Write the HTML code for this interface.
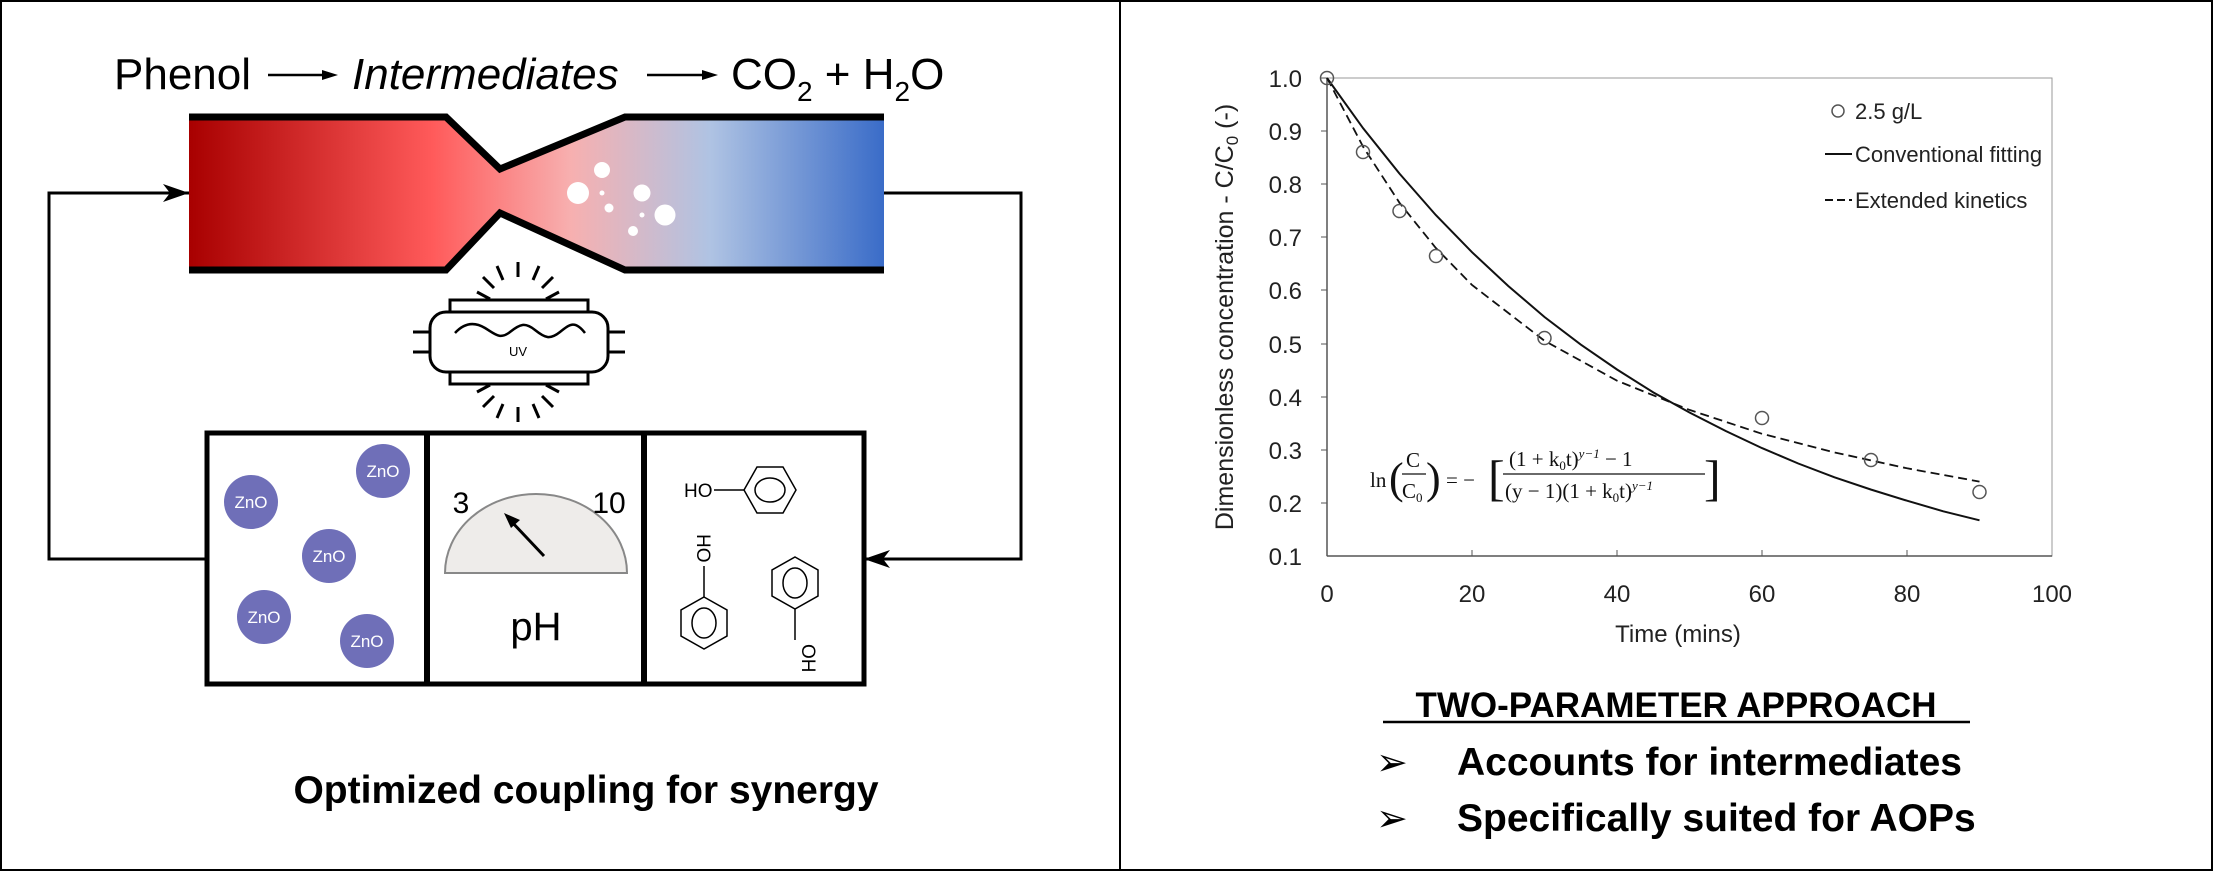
<!DOCTYPE html>
<html><head><meta charset="utf-8"><style>
html,body{margin:0;padding:0;background:#fff}
svg{display:block}
.s{font-family:"Liberation Sans",sans-serif}
.b{font-family:"Liberation Sans",sans-serif;font-weight:bold}
.r{font-family:"Liberation Serif",serif}
</style></head><body>
<svg width="2213" height="871" viewBox="0 0 2213 871" xmlns="http://www.w3.org/2000/svg">
<defs>
<linearGradient id="g" x1="189" y1="0" x2="884" y2="0" gradientUnits="userSpaceOnUse">
<stop offset="0" stop-color="#a80000"/>
<stop offset="0.35" stop-color="#ff5a5a"/>
<stop offset="0.55" stop-color="#f7b0b0"/>
<stop offset="0.75" stop-color="#afc3e3"/>
<stop offset="1" stop-color="#3a6cc8"/>
</linearGradient>
</defs>
<rect x="1" y="1" width="2211" height="869" fill="none" stroke="#000" stroke-width="2"/>
<line x1="1120" y1="0" x2="1120" y2="871" stroke="#000" stroke-width="2"/>

<!-- title -->
<text x="114" y="89" class="s" font-size="44">Phenol</text>
<line x1="268" y1="75" x2="330" y2="75" stroke="#000" stroke-width="2.5"/>
<polygon points="338,75 322,70 322,80" fill="#000"/>
<text x="352" y="89" class="s" font-size="44" font-style="italic">Intermediates</text>
<line x1="647" y1="75" x2="710" y2="75" stroke="#000" stroke-width="2.5"/>
<polygon points="718,75 702,70 702,80" fill="#000"/>
<text x="731" y="89" class="s" font-size="44">CO<tspan font-size="28" dy="12">2</tspan><tspan dy="-12"> + H</tspan><tspan font-size="28" dy="12">2</tspan><tspan dy="-12">O</tspan></text>

<!-- tube -->
<polygon points="189,117 446,117 500,169 625,117 884,117 884,270 625,270 500,213 446,270 189,270" fill="url(#g)"/>
<polyline points="189,117 446,117 500,169 625,117 884,117" fill="none" stroke="#000" stroke-width="7"/>
<polyline points="189,270 446,270 500,213 625,270 884,270" fill="none" stroke="#000" stroke-width="7"/>
<g fill="#fff">
<circle cx="578" cy="193" r="11"/><circle cx="602" cy="170" r="8"/><circle cx="602" cy="193" r="2.5"/>
<circle cx="609" cy="208" r="4.5"/><circle cx="642" cy="193" r="8.5"/><circle cx="642" cy="215" r="2.5"/>
<circle cx="665" cy="215" r="10.5"/><circle cx="633" cy="231" r="5"/>
</g>

<!-- loop -->
<polyline points="189,193 49,193 49,559 207,559" fill="none" stroke="#000" stroke-width="3"/>
<polygon points="189,193 163,184 170,193 163,202" fill="#000"/>
<polyline points="884,193 1021,193 1021,559 864,559" fill="none" stroke="#000" stroke-width="3"/>
<polygon points="864,559 890,550 883,559 890,568" fill="#000"/>

<!-- UV lamp -->
<g stroke="#000" stroke-width="3" fill="none">
<rect x="450" y="300" width="138" height="12" fill="#fff"/>
<rect x="450" y="372" width="138" height="12" fill="#fff"/>
<rect x="430" y="312" width="178" height="60" rx="16" fill="#fff"/>
<line x1="413" y1="332" x2="430" y2="332"/><line x1="413" y1="352" x2="430" y2="352"/>
<line x1="608" y1="332" x2="625" y2="332"/><line x1="608" y1="352" x2="625" y2="352"/>
<path d="M455,333 C465,322 475,322 485,328 S500,340 510,332 S525,322 535,330 S550,340 560,332 S575,320 585,333" stroke-width="2.5"/>
<line x1="518" y1="262" x2="518" y2="277"/><line x1="497" y1="266" x2="503" y2="280"/><line x1="539" y1="266" x2="533" y2="280"/>
<line x1="483" y1="277" x2="494" y2="288"/><line x1="553" y1="277" x2="542" y2="288"/>
<line x1="477" y1="292" x2="490" y2="299"/><line x1="559" y1="292" x2="546" y2="299"/>
<line x1="518" y1="407" x2="518" y2="422"/><line x1="497" y1="418" x2="503" y2="404"/><line x1="539" y1="418" x2="533" y2="404"/>
<line x1="483" y1="407" x2="494" y2="396"/><line x1="553" y1="407" x2="542" y2="396"/>
<line x1="477" y1="392" x2="490" y2="385"/><line x1="559" y1="392" x2="546" y2="385"/>
</g>
<text x="518" y="356" class="s" font-size="13" text-anchor="middle">UV</text>

<!-- boxes -->
<rect x="207" y="433" width="657" height="251" fill="none" stroke="#000" stroke-width="5"/>
<line x1="427" y1="433" x2="427" y2="684" stroke="#000" stroke-width="6"/>
<line x1="644" y1="433" x2="644" y2="684" stroke="#000" stroke-width="6"/>
<g fill="#6f6fb8">
<circle cx="251" cy="502" r="27"/><circle cx="383" cy="471" r="27"/><circle cx="329" cy="556" r="27"/>
<circle cx="264" cy="617" r="27"/><circle cx="367" cy="641" r="27"/>
</g>
<g class="s" font-size="17" fill="#fff" text-anchor="middle">
<text x="251" y="508">ZnO</text><text x="383" y="477">ZnO</text><text x="329" y="562">ZnO</text>
<text x="264" y="623">ZnO</text><text x="367" y="647">ZnO</text>
</g>
<!-- gauge -->
<path d="M445,573 A91,79 0 0 1 627,573 Z" fill="#eeecea" stroke="#888" stroke-width="2"/>
<line x1="544" y1="556" x2="510" y2="520" stroke="#000" stroke-width="3"/>
<polygon points="504,513 520,520 511,528" fill="#000"/>
<text x="461" y="513" class="s" font-size="30" text-anchor="middle">3</text>
<text x="609" y="513" class="s" font-size="30" text-anchor="middle">10</text>
<text x="536" y="640" class="s" font-size="40" text-anchor="middle">pH</text>
<!-- phenols -->
<g stroke="#000" stroke-width="1.5" fill="none">
<polygon points="744,490 757,467 783,467 796,490 783,513 757,513"/>
<ellipse cx="770" cy="490" rx="15" ry="12"/>
<line x1="714" y1="490" x2="744" y2="490"/>
<polygon points="704,597 727,610 727,636 704,649 681,636 681,610"/>
<ellipse cx="704" cy="623" rx="12" ry="15"/>
<line x1="704" y1="566" x2="704" y2="597"/>
<polygon points="795,557 818,570 818,596 795,609 772,596 772,570"/>
<ellipse cx="795" cy="583" rx="12" ry="15"/>
<line x1="795" y1="609" x2="795" y2="640"/>
</g>
<text x="684" y="497" class="s" font-size="19">HO</text>
<text x="0" y="0" class="s" font-size="19" transform="translate(697,534) rotate(90)">HO</text>
<text x="0" y="0" class="s" font-size="19" transform="translate(802,644) rotate(90)">OH</text>

<text x="586" y="803" class="b" font-size="39" text-anchor="middle">Optimized coupling for synergy</text>

<!-- chart -->
<rect x="1327" y="78" width="725" height="478" fill="none" stroke="#999" stroke-width="1"/>
<line x1="1327" y1="78" x2="1327" y2="556" stroke="#555" stroke-width="1.5"/>
<line x1="1327" y1="556" x2="2052" y2="556" stroke="#555" stroke-width="1.5"/>
<g stroke="#555" stroke-width="1">
<line x1="1472" y1="550" x2="1472" y2="556"/><line x1="1617" y1="550" x2="1617" y2="556"/>
<line x1="1762" y1="550" x2="1762" y2="556"/><line x1="1907" y1="550" x2="1907" y2="556"/>
<line x1="1321" y1="78" x2="1327" y2="78"/><line x1="1321" y1="131" x2="1327" y2="131"/>
<line x1="1321" y1="184" x2="1327" y2="184"/><line x1="1321" y1="237" x2="1327" y2="237"/>
<line x1="1321" y1="290" x2="1327" y2="290"/><line x1="1321" y1="344" x2="1327" y2="344"/>
<line x1="1321" y1="397" x2="1327" y2="397"/><line x1="1321" y1="450" x2="1327" y2="450"/>
<line x1="1321" y1="503" x2="1327" y2="503"/>
</g>
<g class="s" font-size="24" text-anchor="end" fill="#222">
<text x="1302" y="87">1.0</text><text x="1302" y="140">0.9</text><text x="1302" y="193">0.8</text>
<text x="1302" y="246">0.7</text><text x="1302" y="299">0.6</text><text x="1302" y="353">0.5</text>
<text x="1302" y="406">0.4</text><text x="1302" y="459">0.3</text><text x="1302" y="512">0.2</text>
<text x="1302" y="565">0.1</text>
</g>
<g class="s" font-size="24" text-anchor="middle" fill="#222">
<text x="1327" y="602">0</text><text x="1472" y="602">20</text><text x="1617" y="602">40</text>
<text x="1762" y="602">60</text><text x="1907" y="602">80</text><text x="2052" y="602">100</text>
<text x="1678" y="642">Time (mins)</text>
</g>
<text x="0" y="0" class="s" font-size="25" text-anchor="middle" fill="#222" transform="translate(1233,317) rotate(-90)">Dimensionless concentration - C/C<tspan font-size="17" dy="5">0</tspan><tspan dy="-5"> (-)</tspan></text>
<polyline fill="none" stroke="#111" stroke-width="2" points="1327,78 1363.25,128.4 1399.5,173.6 1435.75,215 1472,252.2 1508.25,286 1544.5,317 1580.75,344.6 1617,369.5 1653.25,392.4 1689.5,412.5 1725.75,431 1762,448.1 1798.25,463.5 1834.5,477.3 1870.75,489.5 1907,500.7 1943.25,511.3 1979.5,520.3"/>
<polyline fill="none" stroke="#111" stroke-width="1.8" stroke-dasharray="9,5" points="1327,78 1363.25,147 1399.5,202.8 1435.75,247.9 1472,285 1544.5,340.8 1617,380.7 1689.5,409.9 1762,433.8 1834.5,452.4 1907,468.3 1979.5,481.6"/>
<g fill="none" stroke="#555" stroke-width="1.5">
<circle cx="1327" cy="78" r="6.5"/><circle cx="1363" cy="152" r="6.5"/><circle cx="1399.5" cy="211" r="6.5"/>
<circle cx="1436" cy="256" r="6.5"/><circle cx="1544.5" cy="338" r="6.5"/><circle cx="1762" cy="418" r="6.5"/>
<circle cx="1871" cy="460" r="6.5"/><circle cx="1979.5" cy="492" r="6.5"/>
</g>
<circle cx="1838" cy="111" r="6" fill="none" stroke="#555" stroke-width="1.5"/>
<line x1="1825" y1="154" x2="1852" y2="154" stroke="#111" stroke-width="2"/>
<line x1="1825" y1="200" x2="1852" y2="200" stroke="#111" stroke-width="2" stroke-dasharray="8,4"/>
<g class="s" font-size="22" fill="#222">
<text x="1855" y="119">2.5 g/L</text><text x="1855" y="162">Conventional fitting</text><text x="1855" y="208">Extended kinetics</text>
</g>
<!-- equation -->
<g class="r" font-size="21" fill="#111">
<text x="1370" y="487">ln</text>
<text x="1389" y="493" font-size="44">(</text>
<text x="1406" y="467">C</text>
<line x1="1402" y1="474" x2="1426" y2="474" stroke="#111" stroke-width="1.3"/>
<text x="1402" y="498">C<tspan font-size="13" dy="4">0</tspan></text>
<text x="1426" y="493" font-size="44">)</text>
<text x="1446" y="487">= −</text>
<text x="1488" y="495" font-size="50">[</text>
<text x="1509" y="466">(1 + k<tspan font-size="13" dy="4">0</tspan><tspan dy="-4">t)</tspan><tspan font-size="13" dy="-8" font-style="italic">y−1</tspan><tspan dy="8"> − 1</tspan></text>
<line x1="1503" y1="474" x2="1705" y2="474" stroke="#111" stroke-width="1.3"/>
<text x="1505" y="498">(y − 1)(1 + k<tspan font-size="13" dy="4">0</tspan><tspan dy="-4">t)</tspan><tspan font-size="13" dy="-8" font-style="italic">y−1</tspan></text>
<text x="1704" y="495" font-size="50">]</text>
</g>

<text x="1676" y="717" class="b" font-size="35" text-anchor="middle">TWO-PARAMETER APPROACH</text>
<line x1="1383" y1="722" x2="1970" y2="722" stroke="#000" stroke-width="2.5"/>
<text x="1376" y="775" class="s" font-size="38">➢</text>
<text x="1376" y="831" class="s" font-size="38">➢</text>
<text x="1457" y="775" class="b" font-size="39">Accounts for intermediates</text>
<text x="1457" y="831" class="b" font-size="39">Specifically suited for AOPs</text>
</svg>
</body></html>
